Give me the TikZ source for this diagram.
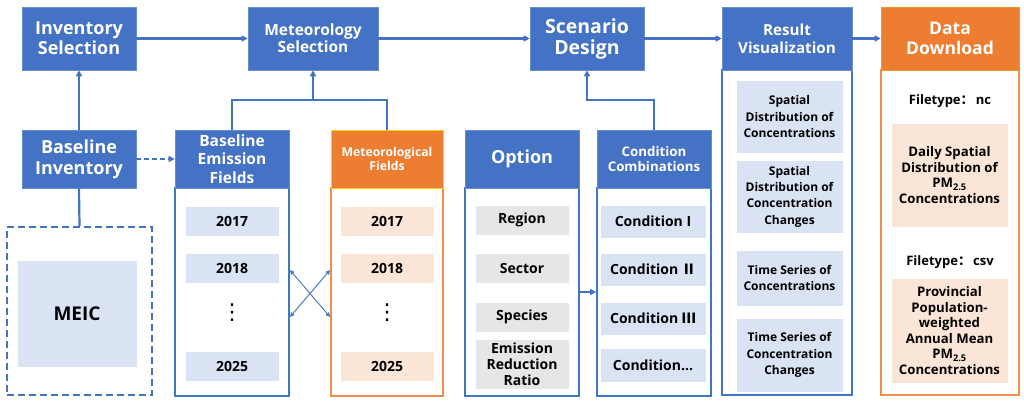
\documentclass[tikz,border=0pt]{standalone}
\usepackage{fontspec}
\setmainfont{Open Sans}
\newfontfamily\cjk{Noto Sans CJK SC}
\newfontfamily\dvsans{DejaVu Sans}
\usetikzlibrary{arrows.meta,calc}
\definecolor{hblue}{HTML}{4472C4}
\definecolor{horange}{HTML}{ED7D31}
\definecolor{cblue}{HTML}{3F78C0}
\definecolor{corange}{HTML}{F08C4E}
\definecolor{lblue}{HTML}{DAE3F3}
\definecolor{lorange}{HTML}{FBE5D6}
\definecolor{lgray}{HTML}{E7E6E6}
\definecolor{xblue}{HTML}{4A7EBB}
\newcommand{\fs}[2]{\fontsize{#1}{#2}\selectfont}
\begin{document}
\begin{tikzpicture}[x=1pt,y=-1pt,
  hdr/.style={fill=hblue,draw=hblue!80!white,line width=0.6pt,text=white,align=center,inner sep=0pt},
  ohdr/.style={hdr,fill=horange,draw=horange!80!yellow},
  cbox/.style={draw=cblue,line width=1.8pt,inner sep=0pt},
  obox/.style={draw=corange,line width=1.8pt,inner sep=0pt},
  item/.style={fill=lblue,draw=white,line width=0.5pt,align=center,inner sep=0pt,text=black},
  oitem/.style={item,fill=lorange},
  gitem/.style={item,fill=lgray},
  vdot/.style={font=\dvsans\fs{22}{24},inner sep=0pt},
  conn/.style={draw=hblue,line width=2.2pt},
  arr/.style={conn,-{Triangle[length=6pt,width=6pt]}},
  xarr/.style={draw=xblue,line width=1pt,{Triangle[length=4.5pt,width=4.5pt]}-{Triangle[length=4.5pt,width=4.5pt]}}
]
\useasboundingbox (0,0) rectangle (1024,401);
% top row
\node[hdr,minimum width=114,minimum height=63,font=\bfseries\fs{18}{20}] (inv) at (79,38.5) {Inventory\\Selection};
\node[hdr,minimum width=130,minimum height=63,font=\bfseries\fs{15.5}{17}] (met) at (313,38.5) {Meteorology\\Selection};
\node[hdr,minimum width=114,minimum height=63,font=\bfseries\fs{19.5}{21}] (scn) at (587,38.5) {Scenario\\Design};
% result containers
\node[cbox,minimum width=130,minimum height=325] (resbox) at (787,232.5) {};
\node[hdr,minimum width=130,minimum height=63,font=\bfseries\fs{15.2}{17.7}] (reshdr) at (787,38.5) {Result\\Visualization};
\node[obox,minimum width=138,minimum height=325] (ddbox) at (950,232.5) {};
\node[ohdr,minimum width=138,minimum height=63,font=\bfseries\fs{17.5}{19.5}] (ddhdr) at (950,38.5) {Data\\Download};
% second row
\node[hdr,minimum width=114,minimum height=58,font=\bfseries\fs{18}{21}] (binv) at (79,159) {Baseline\\Inventory};
\node[cbox,minimum width=114,minimum height=208] (befbox) at (232,292) {};
\node[hdr,minimum width=114,minimum height=58,font=\bfseries\fs{15.5}{18.5}] (befhdr) at (232,159) {Baseline\\Emission\\Fields};
\node[obox,minimum width=112,minimum height=208] (mfbox) at (387,292) {};
\node[ohdr,minimum width=112,minimum height=58,font=\bfseries\fs{12.2}{13.5},draw=yellow!70!orange] (mfhdr) at (387,159) {Meteorological\\Fields};
\node[cbox,minimum width=114,minimum height=208] (optbox) at (522,292) {};
\node[hdr,minimum width=114,minimum height=58,font=\bfseries\fs{18}{20}] (opthdr) at (522,159) {Option};
\node[cbox,minimum width=114,minimum height=208] (ccbox) at (654,292) {};
\node[hdr,minimum width=114,minimum height=58,font=\bfseries\fs{13.3}{15.5}] (cchdr) at (654,159) {Condition\\Combinations};
% MEIC
\node[draw=hblue,line width=2.4pt,dash pattern=on 7pt off 4pt,minimum width=145,minimum height=168,inner sep=0pt] (meic) at (79.5,311) {};
\node[item,minimum width=120,minimum height=107,font=\bfseries\fs{19}{22}] (meicin) at (77,313.5) {MEIC};
% baseline years
\node[item,minimum width=94,minimum height=30,font=\bfseries\fs{14}{16}] (b17) at (232,221) {2017};
\node[item,minimum width=94,minimum height=30,font=\bfseries\fs{14}{16}] (b18) at (232,268.5) {2018};
\node[vdot] (bdots) at (232,313) {⋮};
\node[item,minimum width=94,minimum height=30,font=\bfseries\fs{14}{16}] (b25) at (232,366.5) {2025};
% met years
\node[oitem,minimum width=94,minimum height=30,font=\bfseries\fs{14}{16}] (m17) at (387,221) {2017};
\node[oitem,minimum width=94,minimum height=30,font=\bfseries\fs{14}{16}] (m18) at (387,268.5) {2018};
\node[vdot] (mdots) at (387,313) {⋮};
\node[oitem,minimum width=94,minimum height=30,font=\bfseries\fs{14}{16}] (m25) at (387,366.5) {2025};
% option items
\node[gitem,minimum width=94,minimum height=30,font=\bfseries\fs{14}{16}] (o1) at (522,220) {Region};
\node[gitem,minimum width=94,minimum height=30,font=\bfseries\fs{14}{16}] (o2) at (522,268) {Sector};
\node[gitem,minimum width=94,minimum height=30,font=\bfseries\fs{14}{16}] (o3) at (522,317) {Species};
\node[gitem,minimum width=94,minimum height=50,font=\bfseries\fs{14}{15.8}] (o4) at (522,364) {Emission\\Reduction\\Ratio};
% condition items
\node[item,minimum width=106,minimum height=33,font=\bfseries\fs{14}{16}] (c1) at (653,221.5) {Condition I};
\node[item,minimum width=106,minimum height=33,font=\bfseries\fs{14}{16}] (c2) at (653,269.5) {Condition {\cjk\bfseries Ⅱ}};
\node[item,minimum width=106,minimum height=33,font=\bfseries\fs{14}{16}] (c3) at (653,318.5) {Condition {\cjk\bfseries Ⅲ}};
\node[item,minimum width=106,minimum height=34,font=\bfseries\fs{14}{16}] (c4) at (653,365) {Condition...};
% result items
\node[item,minimum width=107,minimum height=73,font=\bfseries\fs{12}{16.3}] (r1) at (789.5,116.5) {Spatial\\Distribution of\\Concentrations};
\node[item,minimum width=107,minimum height=73,font=\bfseries\fs{12}{16.3}] (r2) at (789.5,196.5) {Spatial\\Distribution of\\Concentration\\Changes};
\node[item,minimum width=107,minimum height=56,font=\bfseries\fs{12}{16.3}] (r3) at (789.5,278) {Time Series of\\Concentrations};
\node[item,minimum width=107,minimum height=74,font=\bfseries\fs{12}{16.3}] (r4) at (789.5,355) {Time Series of\\Concentration\\Changes};
% data download items
\node[font=\bfseries\fs{13}{15}] (ft1) at (950,101) {Filetype{\cjk\bfseries ：}\,nc};
\node[oitem,minimum width=117,minimum height=104,font=\bfseries\fs{13.2}{15.6}] (d1) at (949.5,175) {Daily Spatial\\Distribution of\\PM\textsubscript{2.5}\\Concentrations};
\node[font=\bfseries\fs{13}{15}] (ft2) at (950,262) {Filetype{\cjk\bfseries ：}\,csv};
\node[oitem,minimum width=117,minimum height=105,font=\bfseries\fs{13.2}{15.6}] (d2) at (949.5,330.5) {Provincial\\Population-\\weighted\\Annual Mean\\PM\textsubscript{2.5}\\Concentrations};
% connectors
\draw[arr] (inv.east) -- (met.west);
\draw[arr] (met.east) -- (scn.west);
\draw[arr] (scn.east) -- (reshdr.west);
\draw[arr] (reshdr.east) -- (ddhdr.west);
\draw[arr] (binv.north) -- (inv.south);
\draw[conn] (binv.south) -- (meic.north);
\draw[arr,dash pattern=on 5pt off 3pt] (binv.east) -- (befhdr.west);
\coordinate (j1) at (313,100);
\draw[conn] (befhdr.north) |- (mfhdr.north |- j1) -- (mfhdr.north);
\draw[arr] (j1) -- (met.south);
\coordinate (j2) at (scn.south |- j1);
\draw[arr] (cchdr.north) |- (j2) -- (scn.south);
\draw[arr] (optbox.east) -- (ccbox.west);
\coordinate (xa) at (289,270);
\coordinate (xb) at (289,317);
\draw[xarr] (befbox.east |- xa) -- (mfbox.west |- xb);
\draw[xarr] (befbox.east |- xb) -- (mfbox.west |- xa);
\end{tikzpicture}
\end{document}
